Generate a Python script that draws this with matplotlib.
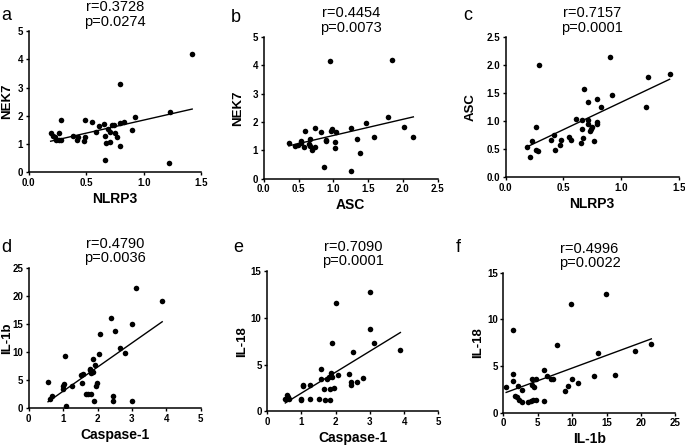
import numpy as np
import matplotlib
matplotlib.use('Agg')
import matplotlib.pyplot as plt

plt.rcParams['font.family'] = ['Liberation Sans', 'DejaVu Sans']

# panel a: NLRP3 vs NEK7
a_x = [0.19, 0.21, 0.23, 0.24, 0.26, 0.26, 0.28, 0.28, 0.38, 0.42, 0.43, 0.48,
       0.49, 0.49, 0.55, 0.58, 0.61, 0.65, 0.66, 0.66, 0.67, 0.69, 0.71, 0.71,
       0.72, 0.74, 0.75, 0.77, 0.79, 0.79, 0.79, 0.83, 0.90, 0.92, 1.22, 1.23, 1.42]
a_y = [1.37, 1.29, 1.23, 1.14, 1.37, 1.14, 1.85, 1.14, 1.29, 1.14, 1.23, 1.11,
       1.85, 1.25, 1.79, 1.42, 1.64, 1.69, 1.29, 0.42, 1.02, 1.52, 1.44, 1.08,
       1.67, 1.67, 1.37, 1.25, 1.75, 3.13, 0.92, 1.79, 1.50, 1.96, 0.31, 2.15, 4.18]

# panel b: ASC vs NEK7
b_x = [0.36, 0.45, 0.49, 0.53, 0.54, 0.58, 0.60, 0.65, 0.67, 0.67, 0.70, 0.73,
       0.74, 0.83, 0.87, 0.89, 0.89, 0.95, 0.96, 0.98, 1.02, 1.03, 1.04, 1.26,
       1.26, 1.34, 1.39, 1.47, 1.59, 1.79, 1.85, 2.02, 2.15]
b_y = [1.25, 1.15, 1.20, 1.35, 1.25, 1.11, 1.68, 1.23, 1.41, 1.14, 1.02, 1.79,
       1.11, 1.64, 0.40, 1.37, 1.35, 4.15, 1.68, 1.75, 1.29, 1.08, 1.64, 1.78,
       0.28, 1.41, 0.91, 1.98, 1.49, 2.17, 4.20, 1.83, 1.49]

# panel c: NLRP3 vs ASC
c_x = [0.19, 0.21, 0.23, 0.26, 0.26, 0.28, 0.29, 0.39, 0.42, 0.43, 0.47, 0.48,
       0.55, 0.57, 0.61, 0.65, 0.66, 0.66, 0.67, 0.68, 0.71, 0.71, 0.71, 0.73,
       0.74, 0.75, 0.77, 0.79, 0.79, 0.79, 0.83, 0.90, 0.92, 1.22, 1.23, 1.42]
c_y = [0.54, 0.36, 0.64, 0.48, 0.90, 0.46, 2.01, 0.66, 0.75, 0.49, 0.58, 0.67,
       0.72, 0.67, 1.04, 0.60, 0.86, 1.01, 0.70, 1.58, 1.34, 1.02, 0.95, 0.82,
       0.85, 0.89, 0.65, 0.98, 0.95, 1.39, 1.26, 2.14, 1.46, 1.26, 1.79, 1.85]

# panel d: Caspase-1 vs IL-1b
d_x = [0.56, 0.63, 0.68, 1.00, 1.00, 1.01, 1.06, 1.08, 1.26, 1.53, 1.55, 1.57,
       1.67, 1.72, 1.77, 1.79, 1.80, 1.82, 1.86, 1.88, 1.91, 1.93, 1.95, 1.98,
       2.03, 2.08, 2.39, 2.46, 2.46, 2.51, 2.64, 2.81, 3.01, 3.01, 3.12, 3.88]
d_y = [4.64, 1.67, 2.08, 3.93, 3.45, 4.35, 9.29, 0.30, 3.93, 5.95, 4.52, 6.0,
       2.56, 2.56, 6.73, 7.02, 6.25, 2.56, 8.81, 6.43, 1.25, 7.62, 3.93, 4.52,
       9.70, 13.15, 16.13, 2.08, 1.25, 13.75, 10.77, 9.88, 15.0, 1.25, 21.37, 19.1]

# panel e: Caspase-1 vs IL-18
e_x = [0.53, 0.58, 0.61, 0.63, 0.99, 1.00, 1.04, 1.05, 1.24, 1.26, 1.52, 1.56,
       1.56, 1.65, 1.70, 1.76, 1.81, 1.83, 1.84, 1.87, 1.89, 1.90, 1.96, 2.01,
       2.07, 2.38, 2.46, 2.46, 2.50, 2.63, 2.80, 3.01, 3.01, 3.12, 3.89]
e_y = [1.36, 1.79, 1.54, 1.36, 1.18, 1.36, 2.86, 2.68, 2.79, 1.29, 1.29, 4.57,
       3.50, 2.36, 1.18, 3.50, 3.68, 1.18, 2.36, 4.04, 3.68, 7.25, 2.54, 11.61,
       3.86, 3.96, 3.14, 2.79, 6.36, 3.14, 3.57, 12.79, 8.82, 7.32, 6.54]

# panel f: IL-1b vs IL-18
f_x = [0.39, 1.35, 1.35, 1.45, 2.17, 1.69, 1.93, 2.32, 2.66, 2.66, 3.62, 3.96,
       4.11, 4.20, 4.49, 4.35, 4.69, 4.69, 5.94, 5.94, 6.28, 6.91, 7.25, 7.73,
       8.94, 9.42, 9.76, 9.90, 10.77, 13.19, 13.77, 14.98, 16.18, 19.18, 21.5]
f_y = [2.71, 8.86, 4.14, 3.36, 2.89, 1.82, 1.64, 1.36, 1.18, 2.43, 1.18, 1.21,
       3.61, 2.96, 2.71, 1.36, 1.36, 3.61, 4.61, 1.29, 3.96, 3.61, 3.61, 7.29,
       2.36, 2.89, 11.64, 3.61, 3.14, 3.89, 6.39, 12.71, 4.04, 6.57, 7.36]

panels = [
    # letter, x, y, xlabel, ylabel, stats, xticks, xfmt, yticks, yfmt
    ('a', a_x, a_y, 'NLRP3', 'NEK7', 'r=0.3728\np=0.0274',
     [0.0, 0.5, 1.0, 1.5], '%.1f', [0, 1, 2, 3, 4, 5], '%d'),
    ('b', b_x, b_y, 'ASC', 'NEK7', 'r=0.4454\np=0.0073',
     [0.0, 0.5, 1.0, 1.5, 2.0, 2.5], '%.1f', [0, 1, 2, 3, 4, 5], '%d'),
    ('c', c_x, c_y, 'NLRP3', 'ASC', 'r=0.7157\np=0.0001',
     [0.0, 0.5, 1.0, 1.5], '%.1f', [0.0, 0.5, 1.0, 1.5, 2.0, 2.5], '%.1f'),
    ('d', d_x, d_y, 'Caspase-1', 'IL-1b', 'r=0.4790\np=0.0036',
     [0, 1, 2, 3, 4, 5], '%d', [0, 5, 10, 15, 20, 25], '%d'),
    ('e', e_x, e_y, 'Caspase-1', 'IL-18', 'r=0.7090\np=0.0001',
     [0, 1, 2, 3, 4, 5], '%d', [0, 5, 10, 15], '%d'),
    ('f', f_x, f_y, 'IL-1b', 'IL-18', 'r=0.4996\np=0.0022',
     [0, 5, 10, 15, 20, 25], '%d', [0, 5, 10, 15], '%d'),
]

# axes boxes in figure fractions
boxes = [
    [0.042, 0.616, 0.252, 0.314],
    [0.385, 0.601, 0.254, 0.316],
    [0.738, 0.605, 0.253, 0.312],
    [0.042, 0.089, 0.251, 0.313],
    [0.390, 0.082, 0.250, 0.313],
    [0.735, 0.079, 0.251, 0.312],
]
# right edge of the rotated y label, in axes units
ylabel_x = [-0.092, -0.11, -0.165, -0.09, -0.11, -0.115]
letter_pos = [(0.002, 0.955), (0.337, 0.952), (0.676, 0.955),
              (0.002, 0.4375), (0.340, 0.4375), (0.666, 0.4375)]

fig = plt.figure(figsize=(6.85, 4.48), dpi=100)

for (letter, x, y, xl, yl, stats, xt, xf, yt, yf), box, lx, lp in zip(panels, boxes, ylabel_x, letter_pos):
    ax = fig.add_axes(box)
    x = np.array(x)
    y = np.array(y)
    ax.plot(x, y, 'o', color='black', markersize=4, markeredgewidth=0)
    k, m = np.polyfit(x, y, 1)
    xx = np.array([x.min(), x.max()])
    ax.plot(xx, k * xx + m, color='black', linewidth=1.0)

    ax.set_xlim(xt[0], xt[-1])
    ax.set_ylim(yt[0], yt[-1])
    ax.set_xticks(xt)
    ax.set_yticks(yt)
    ax.set_xticklabels([xf % v for v in xt])
    ax.set_yticklabels([yf % v for v in yt])
    for s in ['top', 'right']:
        ax.spines[s].set_visible(False)
    for s in ['left', 'bottom']:
        ax.spines[s].set_linewidth(1.1)
    ax.tick_params(direction='out', length=2.5, width=1.0, pad=1.5, labelsize=7)
    for lab in ax.get_xticklabels() + ax.get_yticklabels():
        lab.set_fontweight('bold')
    ax.set_xlabel(xl, fontsize=10, fontweight='bold', labelpad=3)
    ax.set_ylabel(yl, fontsize=9.5, fontweight='bold')
    ax.yaxis.set_label_coords(lx, 0.5)
    ax.set_title(stats, fontsize=10.5, linespacing=1.05, pad=4)
    fig.text(lp[0], lp[1], letter, fontsize=13)

plt.savefig('out.png', dpi=100)
